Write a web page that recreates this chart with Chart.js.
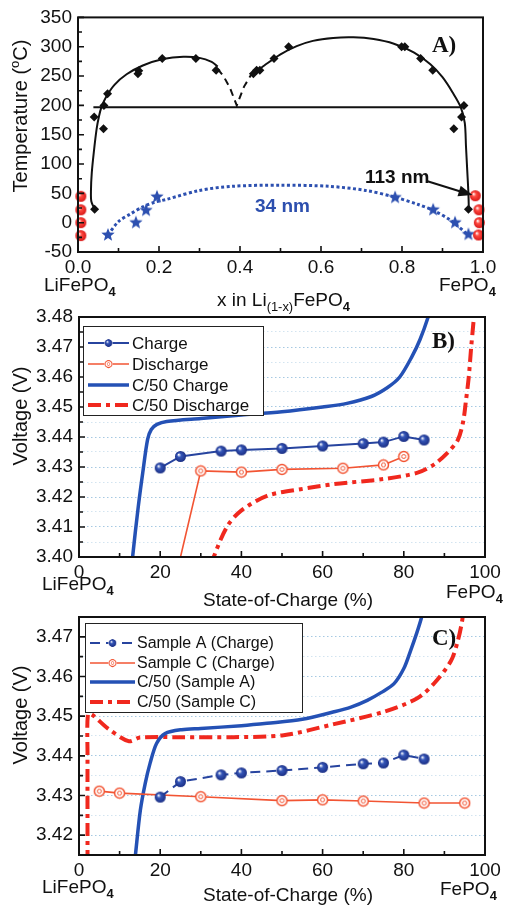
<!DOCTYPE html>
<html>
<head>
<meta charset="utf-8">
<script src="https://cdn.jsdelivr.net/npm/chart.js@4.4.1/dist/chart.umd.min.js"></script>
<style>
  body { margin: 0; background: #fff; }
  #wrap { position: relative; width: 507px; height: 907px; overflow: hidden; font-family: "Liberation Sans", Arial, sans-serif; color: #111; }
  #wrap canvas { position: absolute; left: 0; top: 0; }
  .t { position: absolute; font-size: 19px; line-height: 1; white-space: nowrap; }
  .t sub { font-size: 0.68em; vertical-align: -0.4em; line-height: 0; }
  .t sub.b { font-weight: bold; }
  .yt { font-size: 20px; transform: translate(-50%, -50%) rotate(-90deg); }
  .yt sup { font-size: 0.65em; vertical-align: 0.6em; line-height: 0; }
  .pl { font-family: "Liberation Serif", "Times New Roman", serif; font-weight: bold; font-size: 23px; }
</style>
</head>
<body>
<div id="wrap">
  <canvas id="chartA" width="507" height="907"></canvas>
  <canvas id="chartB" width="507" height="907"></canvas>
  <canvas id="chartC" width="507" height="907"></canvas>

  <!-- panel A texts -->
  <div class="t yt" style="left:20px; top:116px;">Temperature (<sup>o</sup>C)</div>
  <div class="t pl" style="left:432px; top:33px;">A)</div>
  <div class="t" style="left:255px; top:196px; font-weight:bold; color:#2d4fae;">34 nm</div>
  <div class="t" style="left:365px; top:167px; font-weight:bold;">113 nm</div>
  <div class="t" style="left:44px; top:275px;">LiFePO<sub class="b">4</sub></div>
  <div class="t" style="left:439px; top:275px;">FePO<sub class="b">4</sub></div>
  <div class="t" style="left:217px; top:290px;">x in Li<sub>(1-x)</sub>FePO<sub class="b">4</sub></div>

  <!-- panel B texts -->
  <div class="t yt" style="left:20px; top:416px;">Voltage (V)</div>
  <div class="t pl" style="left:432px; top:329px;">B)</div>
  <div class="t" style="left:42px; top:574px;">LiFePO<sub class="b">4</sub></div>
  <div class="t" style="left:446px; top:582px;">FePO<sub class="b">4</sub></div>
  <div class="t" style="left:203px; top:590px;">State-of-Charge (%)</div>

  <!-- panel C texts -->
  <div class="t yt" style="left:20px; top:715px;">Voltage (V)</div>
  <div class="t pl" style="left:432px; top:626px;">C)</div>
  <div class="t" style="left:42px; top:877px;">LiFePO<sub class="b">4</sub></div>
  <div class="t" style="left:440px; top:879px;">FePO<sub class="b">4</sub></div>
  <div class="t" style="left:203px; top:885px;">State-of-Charge (%)</div>
</div>

<script>
// ---------- Panel A: temperature vs x in Li(1-x)FePO4 ----------
const aXRange = [0, 1];
const aYRange = [-50, 350];
const diamonds113 = [[0.040,180],[0.063,160],[0.064,200],[0.073,220],[0.148,254],[0.150,259],[0.208,280],
  [0.291,280],[0.341,260],[0.433,254],[0.441,260],[0.449,260],[0.484,280],[0.520,300],[0.799,300],
  [0.807,300],[0.846,280],[0.876,260],[0.928,160],[0.947,180],[0.953,200],[0.041,23],[0.964,23]];
const fit113Left = [[0.041,23],[0.033,36],[0.032,55],[0.034,85],[0.039,120],[0.046,160],[0.052,182],
  [0.058,197],[0.070,215],[0.090,235],[0.120,253],[0.160,268],[0.210,279],[0.260,283],[0.300,281],
  [0.330,274],[0.345,266]];
const fit113Right = [[0.430,253],[0.460,268],[0.500,287],[0.540,301],[0.580,310],[0.630,315],[0.680,316],
  [0.730,313],[0.780,305],[0.830,290],[0.870,270],[0.900,248],[0.925,222],[0.945,197],[0.955,170],
  [0.958,130],[0.961,90],[0.964,50],[0.965,23]];
const fit113Gap = [[0.345,262],[0.360,249],[0.375,230],[0.392,200],[0.410,232],[0.430,255]];
const eutectoid = [[0.038,197],[0.953,197]];
const stars34 = [[0.074,-21],[0.143,0],[0.168,21],[0.195,44],[0.783,43],[0.877,22],[0.931,0],[0.964,-20]];
const fit34 = [[0.074,-21],[0.100,2],[0.130,15],[0.160,27],[0.190,35],[0.220,40],[0.300,55],[0.380,62],
  [0.500,64],[0.620,62],[0.710,55],[0.780,44],[0.840,31],[0.880,20],[0.920,4],[0.965,-22]];
const endMembers = [[0.007,45],[0.007,22],[0.007,0],[0.007,-22],[0.981,46],[0.990,22],[0.991,0],[0.989,-21]];
const arrow113 = [[0.861,71],[0.974,47]];

// ---------- Panel B: voltage vs state of charge ----------
const bXRange = [0, 100];
const bYRange = [3.40, 3.48];
const socCharge = [20, 25, 35, 40, 50, 60, 70, 75, 80, 85];
const vCharge = [3.4297, 3.4335, 3.4353, 3.4357, 3.4362, 3.4370, 3.4378, 3.4383, 3.4402, 3.4390];
const socDischarge = [25, 30, 40, 50, 65, 75, 80];
const vDischarge = [3.4000, 3.4287, 3.4283, 3.4292, 3.4296, 3.4307, 3.4335];
const c50Charge = [[13.0,3.396],[13.2,3.400],[14.6,3.4168],[15.7,3.4281],[16.9,3.4392],[17.8,3.4425],
  [19.2,3.4442],[21.6,3.4452],[30,3.4462],[40,3.4473],[50,3.4484],[60,3.4500],[66,3.4512],[72,3.4535],
  [76,3.4565],[79,3.4600],[82,3.4668],[84,3.4725],[86,3.4800],[86.5,3.483]];
const c50Discharge = [[33.0,3.397],[33.2,3.400],[36.5,3.4102],[39.8,3.4153],[46.3,3.4204],[54.6,3.4226],
  [62.8,3.4243],[75.1,3.4260],[83.4,3.4281],[87.5,3.4309],[90.8,3.4348],[93.3,3.4390],[94.6,3.4450],
  [95.3,3.4520],[96.0,3.4600],[96.6,3.4700],[97.2,3.4790],[97.4,3.484]];

// ---------- Panel C: sample A vs sample C ----------
const cXRange = [0, 100];
const cYRange = [3.415, 3.475];
const socSampleA = [20, 25, 35, 40, 50, 60, 70, 75, 80, 85];
const vSampleA = [3.4296, 3.4335, 3.4352, 3.4357, 3.4363, 3.4371, 3.4380, 3.4382, 3.4402, 3.4392];
const socSampleC = [5, 10, 30, 50, 60, 70, 85, 95];
const vSampleC = [3.4311, 3.4306, 3.4297, 3.4287, 3.4289, 3.4286, 3.4281, 3.4281];
const c50SampleA = [[13.7,3.413],[13.9,3.415],[15.1,3.4262],[16.3,3.4330],[17.5,3.4381],[19.1,3.4431],
  [21.2,3.4456],[25.3,3.4466],[30,3.4469],[40,3.4476],[46.3,3.4482],[55,3.4492],[62.8,3.4511],
  [67,3.4523],[71,3.4540],[74.5,3.4560],[77.6,3.4582],[80,3.4620],[81.7,3.4666],[83.2,3.4710],
  [84.4,3.4750],[84.8,3.4770]];
const c50SampleC = [[2.1,3.413],[2.1,3.415],[2.1,3.440],[2.2,3.4505],[3.2,3.4504],[7,3.4470],[12.2,3.4437],
  [15,3.4446],[25,3.4447],[38,3.4447],[50.4,3.4452],[62.8,3.4480],[75.1,3.4511],[83.3,3.4545],
  [87.5,3.4583],[91.6,3.4639],[93.3,3.4690],[94.4,3.4742],[94.6,3.4770]];

// colours
const BLUE_PT = '#27449f';
const BLUE_LINE = '#2451b5';
const RED = '#f0281e';
const ORANGE = '#f25433';

const pairs = (arr) => arr.map(([x, y]) => ({ x, y }));
const zip = (xs, ys) => xs.map((x, i) => ({ x, y: ys[i] }));
const isMajor = (v, step) => Math.abs(v / step - Math.round(v / step)) < 1e-6;

// little marker images
function sprite(size, draw) {
    const c = document.createElement('canvas');
    c.width = c.height = size;
    draw(c.getContext('2d'), size / 2);
    return c;
}
function ball(color, dark, r) {
    return sprite(2 * r + 2, (g, c) => {
        const grad = g.createRadialGradient(c - r * 0.35, c - r * 0.35, 0.3, c, c, r);
        grad.addColorStop(0, '#ffffff');
        grad.addColorStop(0.35, color);
        grad.addColorStop(1, dark);
        g.fillStyle = grad;
        g.beginPath(); g.arc(c, c, r, 0, Math.PI * 2); g.fill();
    });
}
const blueBall = ball('#3556b8', '#1b2f85', 5.5);
const redBall = ball('#ff4a40', '#d81818', 5.5);
const hollowOrange = sprite(13, (g, c) => {
    g.fillStyle = '#fff';
    g.strokeStyle = ORANGE;
    g.lineWidth = 1.5;
    g.beginPath(); g.arc(c, c, 5, 0, Math.PI * 2); g.fill(); g.stroke();
    g.lineWidth = 1;
    g.beginPath(); g.arc(c, c, 2, 0, Math.PI * 2); g.stroke();
});
const blueStar = sprite(16, (g, c) => {
    g.fillStyle = '#2d50b0';
    g.beginPath();
    for (let i = 0; i < 10; i++) {
        const r = i % 2 ? 3 : 7;
        const a = -Math.PI / 2 + i * Math.PI / 5;
        g.lineTo(c + r * Math.cos(a), c + r * Math.sin(a));
    }
    g.closePath(); g.fill();
});

// frame, inward ticks and the arrow of panel A
const framePlugin = {
    id: 'frame',
    afterDatasetsDraw(chart, args, o) {
        const { ctx, chartArea: a, scales: { x, y } } = chart;
        ctx.save();
        ctx.strokeStyle = '#111';
        ctx.lineWidth = 1.6;
        ctx.beginPath();
        for (let v = x.min; v <= x.max + 1e-9; v += o.xMinor) {
            const px = x.getPixelForValue(v);
            const len = isMajor(v, o.xMajor) ? 6 : 4;
            ctx.moveTo(px, a.bottom); ctx.lineTo(px, a.bottom - len);
        }
        for (let v = y.min; v <= y.max + 1e-9; v += o.yMinor) {
            const py = y.getPixelForValue(v);
            const len = isMajor(v, o.yMajor) ? 6 : 4;
            ctx.moveTo(a.left, py); ctx.lineTo(a.left + len, py);
        }
        ctx.stroke();
        ctx.lineWidth = 2;
        ctx.strokeRect(a.left, a.top, a.right - a.left, a.bottom - a.top);

        if (o.arrow) {
            const [p0, p1] = o.arrow;
            const x0 = x.getPixelForValue(p0[0]), y0 = y.getPixelForValue(p0[1]);
            const x1 = x.getPixelForValue(p1[0]), y1 = y.getPixelForValue(p1[1]);
            const ang = Math.atan2(y1 - y0, x1 - x0);
            ctx.fillStyle = '#111';
            ctx.beginPath();
            ctx.moveTo(x0, y0);
            ctx.lineTo(x1 - 10 * Math.cos(ang), y1 - 10 * Math.sin(ang));
            ctx.stroke();
            ctx.beginPath();
            ctx.moveTo(x1, y1);
            ctx.lineTo(x1 - 14 * Math.cos(ang) + 5.5 * Math.sin(ang), y1 - 14 * Math.sin(ang) - 5.5 * Math.cos(ang));
            ctx.lineTo(x1 - 14 * Math.cos(ang) - 5.5 * Math.sin(ang), y1 - 14 * Math.sin(ang) + 5.5 * Math.cos(ang));
            ctx.closePath();
            ctx.fill();
        }
        ctx.restore();
    }
};

// legend drawn inside the plot, in a box
const boxLegend = {
    id: 'boxLegend',
    afterDraw(chart, args, o) {
        if (!o.box) return;
        const ctx = chart.ctx;
        const [bx, by, bw, bh] = o.box;
        ctx.save();
        ctx.fillStyle = '#fff';
        ctx.fillRect(bx, by, bw, bh);
        ctx.strokeStyle = '#222';
        ctx.lineWidth = 1;
        ctx.strokeRect(bx + 0.5, by + 0.5, bw, bh);
        ctx.font = o.font;
        ctx.textBaseline = 'middle';
        chart.data.datasets.filter(d => d.label).forEach((d, i) => {
            const yy = o.rows[i];
            ctx.save();
            ctx.strokeStyle = d.borderColor;
            ctx.lineWidth = d.borderWidth;
            ctx.setLineDash(d.borderDash || []);
            ctx.beginPath();
            ctx.moveTo(o.swatch[0], yy); ctx.lineTo(o.swatch[1], yy);
            ctx.stroke();
            ctx.restore();
            if (d.pointStyle && typeof d.pointStyle === 'object') {
                const mid = (o.swatch[0] + o.swatch[1]) / 2;
                ctx.fillStyle = '#fff';
                ctx.fillRect(mid - 4, yy - 4, 8, 8);
                ctx.drawImage(d.pointStyle, mid - 4.5, yy - 4.5, 9, 9);
            }
            ctx.fillStyle = '#111';
            ctx.fillText(d.label, o.textX, yy + 1);
        });
        ctx.restore();
    }
};

Chart.defaults.font.family = '"Liberation Sans", Arial, sans-serif';
Chart.defaults.color = '#111';

function makeChart(id, datasets, s) {
    return new Chart(document.getElementById(id), {
        type: 'scatter',
        data: { datasets },
        options: {
            responsive: false,
            animation: false,
            devicePixelRatio: 1,
            layout: { padding: s.padding },
            scales: {
                x: {
                    min: s.xRange[0], max: s.xRange[1],
                    border: { display: false },
                    grid: { display: false, drawTicks: false },
                    ticks: { stepSize: s.xStep, padding: 4, font: { size: 19 }, maxRotation: 0,
                        autoSkip: false, callback: s.xFmt },
                    afterFit: (scale) => { scale.height = 30; }
                },
                y: {
                    min: s.yRange[0], max: s.yRange[1],
                    border: { display: false, dash: [1.5, 2.5] },
                    grid: {
                        display: s.grid, drawTicks: false, lineWidth: 1,
                        color: (c) => isMajor(c.tick.value, s.yMajor) ? '#a6c9e2' : '#d3e4f0'
                    },
                    ticks: { stepSize: s.yStep, padding: 6, font: { size: 19 }, autoSkip: false,
                        callback: s.yFmt },
                    afterFit: (scale) => { scale.width = 50; }
                }
            },
            plugins: {
                legend: { display: false },
                tooltip: { enabled: false },
                frame: s.frame,
                boxLegend: s.legend || {}
            }
        },
        plugins: [framePlugin, boxLegend]
    });
}

const lineDs = (data, color, width, extra) => Object.assign({
    data, showLine: true, borderColor: color, backgroundColor: color, borderWidth: width,
    pointRadius: 0, tension: 0.3, fill: false, clip: 0
}, extra);

// ---------- Panel A ----------
makeChart('chartA', [
    { data: pairs(endMembers), pointStyle: redBall, pointRadius: 5, showLine: false, clip: false },
    { data: pairs(stars34), pointStyle: blueStar, pointRadius: 6, showLine: false, clip: false },
    { data: pairs(diamonds113), pointStyle: 'rectRot', pointRadius: 4.5, backgroundColor: '#111',
      borderColor: '#111', borderWidth: 0, showLine: false },
    lineDs(pairs(fit34), '#2d50b0', 3, { borderDash: [3, 2.5] }),
    lineDs(pairs(fit113Left), '#111', 2),
    lineDs(pairs(fit113Right), '#111', 2),
    lineDs(pairs(fit113Gap), '#111', 2, { borderDash: [7, 5], tension: 0 }),
    lineDs(pairs(eutectoid), '#111', 2, { tension: 0 })
], {
    padding: { left: 28, right: 24, top: 15, bottom: 625 },
    xRange: aXRange, yRange: aYRange, xStep: 0.2, yStep: 50, yMajor: 50, grid: false,
    xFmt: (v) => v.toFixed(1), yFmt: (v) => v,
    frame: { xMajor: 0.2, xMinor: 0.1, yMajor: 50, yMinor: 25, arrow: arrow113 }
});

// ---------- Panel B ----------
const voltFmt = (v) => isMajor(v, 0.01) ? v.toFixed(2) : '';
makeChart('chartB', [
    lineDs(zip(socCharge, vCharge), BLUE_PT, 2, { label: 'Charge', pointStyle: blueBall, pointRadius: 5, tension: 0 }),
    lineDs(zip(socDischarge, vDischarge), ORANGE, 1.6, { label: 'Discharge', pointStyle: hollowOrange,
      pointRadius: socDischarge.map((_, i) => i === 0 ? 0 : 5), tension: 0 }),
    lineDs(pairs(c50Charge), BLUE_LINE, 3.5, { label: 'C/50 Charge' }),
    lineDs(pairs(c50Discharge), RED, 4, { label: 'C/50 Discharge', borderDash: [13, 5, 4, 5] })
], {
    padding: { left: 29, right: 22, top: 317, bottom: 320 },
    xRange: bXRange, yRange: bYRange, xStep: 20, yStep: 0.005, yMajor: 0.01, grid: true,
    xFmt: (v) => v, yFmt: voltFmt,
    frame: { xMajor: 20, xMinor: 10, yMajor: 0.01, yMinor: 0.005 },
    legend: { box: [83, 326, 180, 89], rows: [343, 364, 385, 405], swatch: [88, 129], textX: 132,
              font: '17px "Liberation Sans", Arial, sans-serif' }
});

// ---------- Panel C ----------
makeChart('chartC', [
    lineDs(zip(socSampleA, vSampleA), BLUE_PT, 2, { label: 'Sample A (Charge)', pointStyle: blueBall,
      pointRadius: 5, tension: 0, borderDash: [10, 6] }),
    lineDs(zip(socSampleC, vSampleC), ORANGE, 1.6, { label: 'Sample C (Charge)', pointStyle: hollowOrange,
      pointRadius: 5, tension: 0 }),
    lineDs(pairs(c50SampleA), BLUE_LINE, 3.5, { label: 'C/50 (Sample A)' }),
    lineDs(pairs(c50SampleC), RED, 4, { label: 'C/50 (Sample C)', borderDash: [13, 5, 4, 5] })
], {
    padding: { left: 29, right: 22, top: 617, bottom: 22 },
    xRange: cXRange, yRange: cYRange, xStep: 20, yStep: 0.005, yMajor: 0.01, grid: true,
    xFmt: (v) => v, yFmt: voltFmt,
    frame: { xMajor: 20, xMinor: 10, yMajor: 0.01, yMinor: 0.005 },
    legend: { box: [85, 623, 217, 89], rows: [643, 663, 682, 702], swatch: [90, 135], textX: 137,
              font: '16px "Liberation Sans", Arial, sans-serif' }
});
</script>
</body>
</html>
